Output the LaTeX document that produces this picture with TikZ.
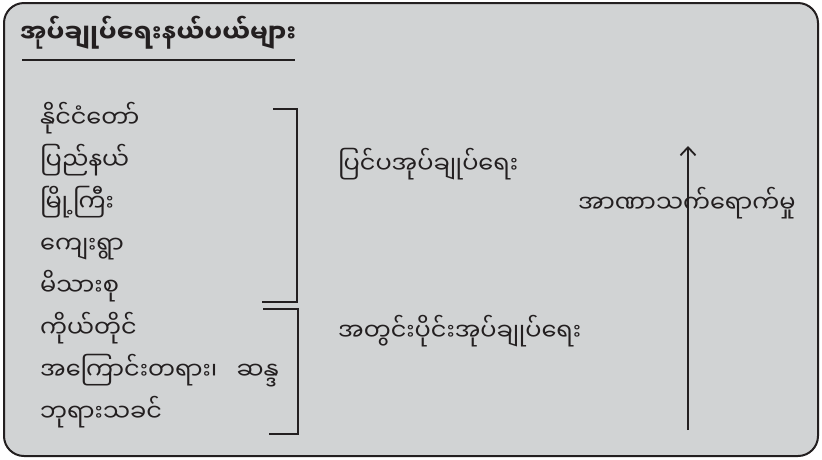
\documentclass[tikz,border=0pt]{standalone}
\usepackage{fontspec}
\usetikzlibrary{matrix,arrows.meta}
\newfontfamily\mmfont[Script=Myanmar]{Noto Sans Myanmar UI}
\definecolor{panelgray}{RGB}{209,211,212}
\definecolor{inkblack}{RGB}{35,31,32}
\tikzset{
	item/.style={font=\mmfont\fontsize{24}{28}\selectfont, inner sep=0pt, anchor=base west},
	brace/.style={draw=inkblack, line width=1.8pt},
}

\begin{document}
\begin{tikzpicture}[x=1pt,y=-1pt,inkblack]
\useasboundingbox (0,0) rectangle (822,459);
\draw[line width=2pt, fill=panelgray, rounded corners=20pt] (4,3) rectangle (818,456);

\node[item, font=\mmfont\bfseries\fontsize{25}{29}\selectfont] (title) at (20,42) {အုပ်ချုပ်ရေးနယ်ပယ်များ};
\coordinate (rule-l) at (22,60);
\coordinate (rule-r) at (295,60);
\draw[line width=1.5pt] (rule-l) -- (rule-r);

\matrix (levels) [matrix of nodes,
			nodes={item},
			row sep={42.1pt,between origins},
			matrix anchor=levels-1-1.base west] at (40,127)
{
နိုင်ငံတော်	\\
ပြည်နယ်	\\
မြို့ကြီး	\\
ကျေးရွာ	\\
မိသားစု	\\
ကိုယ်တိုင်	\\
အကြောင်းတရား၊\hspace{0.8em}ဆန္ဒ	\\
ဘုရားသခင်	\\
};

\coordinate (outer-a) at (273,109);
\coordinate (outer-b) at (297,109);
\coordinate (outer-c) at (297,302);
\coordinate (outer-d) at (262,302);
\coordinate (inner-a) at (263,309);
\coordinate (inner-b) at (298,309);
\coordinate (inner-c) at (298,434);
\coordinate (inner-d) at (269,434);
\draw[brace] (outer-a) -- (outer-b) -- (outer-c) -- (outer-d);
\draw[brace] (inner-a) -- (inner-b) -- (inner-c) -- (inner-d);

\node[item] (outer) at (338,173) {ပြင်ပအုပ်ချုပ်ရေး};
\node[item] (inner) at (338,340) {အတွင်းပိုင်းအုပ်ချုပ်ရေး};

\coordinate (power-foot) at (688,430);
\coordinate (power-tip) at (688,146);
\draw[-{Straight Barb[length=8pt,width=15pt]}, line width=1.8pt] (power-foot) -- (power-tip);
\node[item] (power) at (578,212) {အာဏာသက်ရောက်မှု};

\end{tikzpicture}
\end{document}
